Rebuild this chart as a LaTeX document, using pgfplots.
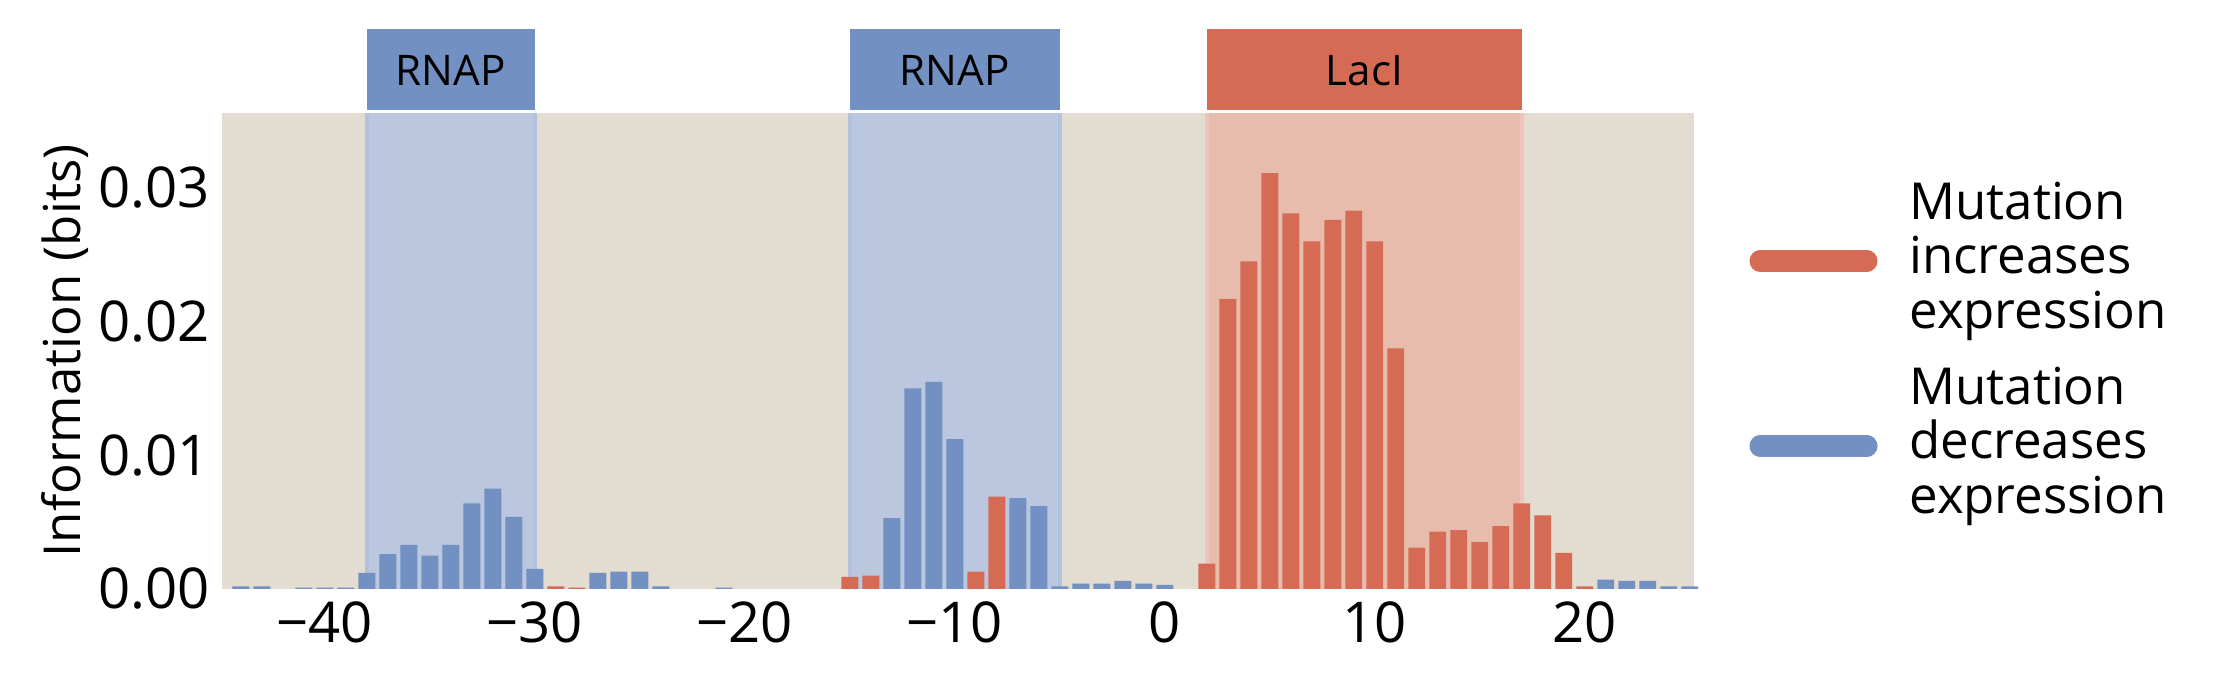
\documentclass[border=0pt]{standalone}
\usepackage{pgfplots}
\pgfplotsset{compat=1.18}
\usepackage{fontspec}
\setmainfont{Open Sans}
\definecolor{bb}{HTML}{7390C3}
\definecolor{rr}{HTML}{D56B55}
\definecolor{bg}{HTML}{E3DCD0}
\definecolor{breg}{HTML}{BAC7DE}
\definecolor{rreg}{HTML}{E8BCAD}
\begin{document}
\begin{tikzpicture}
\useasboundingbox (-2.22,-0.95) rectangle (19.92,5.89);
\begin{axis}[at={(0,0)},anchor=south west,
  width=14.72cm,height=4.76cm,scale only axis,
  xmin=-44.9,xmax=25.2,ymin=0,ymax=0.0356,
  clip=false,
  axis background/.style={fill=bg},
  axis line style={draw=none},tick style={draw=none},
  xtick={-40,-30,-20,-10,0,10,20},
  xticklabels={−40,−30,−20,−10,0,10,20},
  ytick={0,0.01,0.02,0.03},
  scaled y ticks=false,
  yticklabel style={/pgf/number format/.cd,fixed,fixed zerofill,precision=2,assume math mode=true},
  ticklabel style={font=\fontsize{16}{18}\selectfont},
  ylabel={Information (bits)},
  ylabel style={font=\fontsize{14.5}{17}\selectfont},
  ylabel shift=-4pt,
]
\fill[breg] (axis cs:-38,0) rectangle (axis cs:-30,0.0356);
\fill[breg] (axis cs:-15,0) rectangle (axis cs:-5,0.0356);
\fill[rreg] (axis cs:2,0) rectangle (axis cs:17,0.0356);
\draw[bb!55,line width=1pt] (axis cs:-38,0)--(axis cs:-38,0.0356) (axis cs:-30,0)--(axis cs:-30,0.0356) (axis cs:-15,0)--(axis cs:-15,0.0356) (axis cs:-5,0)--(axis cs:-5,0.0356);
\draw[rr!40,line width=1pt] (axis cs:2,0)--(axis cs:2,0.0356) (axis cs:17,0)--(axis cs:17,0.0356);
\fill[bb] (axis cs:-38,0.0358) rectangle (axis cs:-30,0.0419);
\fill[bb] (axis cs:-15,0.0358) rectangle (axis cs:-5,0.0419);
\fill[rr] (axis cs:2,0.0358) rectangle (axis cs:17,0.0419);
\node[font=\fontsize{12}{14}\selectfont] at (axis cs:-34,0.0388) {RNAP};
\node[font=\fontsize{12}{14}\selectfont] at (axis cs:-10,0.0388) {RNAP};
\node[font=\fontsize{12}{14}\selectfont] at (axis cs:9.5,0.0388) {LacI};
\addplot[ybar,bar shift=0pt,bar width=0.8,fill=bb,draw=none] coordinates {
(-44,0.0002)(-43,0.0002)(-41,0.0001)(-40,0.0001)(-39,0.0001)
(-38,0.0012)(-37,0.0026)(-36,0.0033)(-35,0.0025)(-34,0.0033)(-33,0.0064)(-32,0.0075)(-31,0.0054)(-30,0.0015)
(-27,0.0012)(-26,0.0013)(-25,0.0013)(-24,0.0002)(-21,0.0001)
(-13,0.0053)(-12,0.0150)(-11,0.0155)(-10,0.0112)(-7,0.0068)(-6,0.0062)
(-5,0.0002)(-4,0.0004)(-3,0.0004)(-2,0.0006)(-1,0.0004)(0,0.0003)
(21,0.0007)(22,0.0006)(23,0.0006)(24,0.0002)(25,0.0002)};
\addplot[ybar,bar shift=0pt,bar width=0.8,fill=rr,draw=none] coordinates {
(-29,0.0002)(-28,0.0001)(-15,0.0009)(-14,0.0010)(-9,0.0013)(-8,0.0069)
(2,0.0019)(3,0.0217)(4,0.0245)(5,0.0311)(6,0.0281)(7,0.0260)(8,0.0276)(9,0.0283)(10,0.0260)(11,0.0180)
(12,0.0031)(13,0.0043)(14,0.0044)(15,0.0035)(16,0.0047)(17,0.0064)(18,0.0055)(19,0.0027)(20,0.0002)};
\end{axis}
\draw[rr,line width=6pt,line cap=round] (15.38,3.28)--(16.45,3.28);
\draw[bb,line width=6pt,line cap=round] (15.38,1.43)--(16.45,1.43);
\node[anchor=west,align=left,font=\fontsize{14.5}{15.5}\selectfont] at (16.75,3.28) {Mutation\\increases\\expression};
\node[anchor=west,align=left,font=\fontsize{14.5}{15.5}\selectfont] at (16.75,1.43) {Mutation\\decreases\\expression};
\end{tikzpicture}
\end{document}
